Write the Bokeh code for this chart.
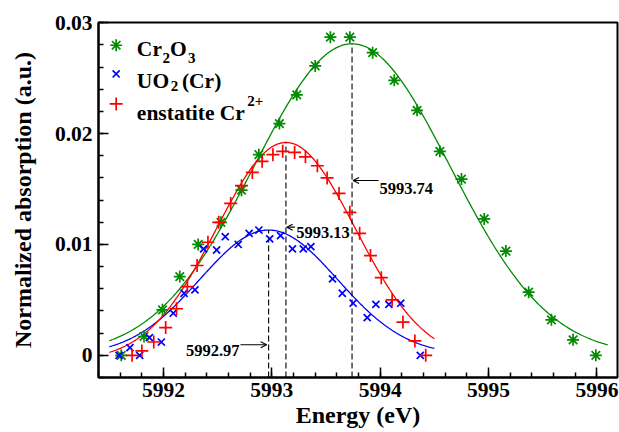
import numpy as np
from bokeh.plotting import figure
from bokeh.models import (Range1d, SingleIntervalTicker, CustomJSTickFormatter,
                          Label, Arrow, OpenHead)
from bokeh.embed import file_html
from bokeh.resources import INLINE

# ---------------- data ----------------
cr2o3_energy = [5991.61, 5991.82, 5991.99, 5992.15, 5992.32, 5992.53, 5992.72, 5992.88,
                5993.07, 5993.23, 5993.40, 5993.54, 5993.72, 5993.93, 5994.13, 5994.34,
                5994.55, 5994.75, 5994.96, 5995.16, 5995.37, 5995.58, 5995.78, 5995.99]
cr2o3_abs = [0.0000, 0.0017, 0.0041, 0.0071, 0.0100, 0.0120, 0.0149, 0.0181,
             0.0209, 0.0235, 0.0261, 0.0287, 0.0287, 0.0273, 0.0248, 0.0221,
             0.0184, 0.0159, 0.0123, 0.0094, 0.0057, 0.0032, 0.0014, 0.0000]

uo2_energy = [5991.59, 5991.69, 5991.78, 5991.87, 5991.98, 5992.09, 5992.19, 5992.29,
              5992.37, 5992.49, 5992.57, 5992.69, 5992.79, 5992.88, 5992.98, 5993.08,
              5993.19, 5993.29, 5993.36, 5993.56, 5993.65, 5993.75, 5993.88, 5993.96,
              5994.08, 5994.19, 5994.37]
uo2_abs = [0.0000, 0.0007, 0.0000, 0.0016, 0.0012, 0.0038, 0.0056, 0.0059,
           0.0096, 0.0095, 0.0107, 0.0100, 0.0110, 0.0113, 0.0105, 0.0108,
           0.0096, 0.0096, 0.0098, 0.0069, 0.0056, 0.0047, 0.0034, 0.0046,
           0.0046, 0.0047, 0.0000]

enst_energy = [5991.71, 5991.80, 5991.91, 5992.02, 5992.12, 5992.22, 5992.31, 5992.41,
               5992.51, 5992.62, 5992.72, 5992.82, 5992.91, 5993.01, 5993.10, 5993.21,
               5993.31, 5993.42, 5993.51, 5993.62, 5993.72, 5993.81, 5993.91, 5994.01,
               5994.11, 5994.21, 5994.32, 5994.42]
enst_abs = [0.0000, 0.0004, 0.0012, 0.0025, 0.0042, 0.0062, 0.0081, 0.0102,
            0.0120, 0.0137, 0.0153, 0.0165, 0.0175, 0.0181, 0.0184, 0.0183,
            0.0179, 0.0171, 0.0160, 0.0146, 0.0129, 0.0110, 0.0090, 0.0070,
            0.0050, 0.0030, 0.0013, 0.0000]

# Gaussian fit parameters (Cr2O3, UO2(Cr), enstatite)
fit_center = [5993.74, 5992.97, 5993.13]
fit_amplitude = [0.0281, 0.0113, 0.0197]
fit_sigma = [0.905, 0.635, 0.64]
fit_baseline = [0.0, 0.0, -0.0005]
fit_start = [5991.5, 5991.5, 5991.5]
fit_end = [5996.1, 5994.5, 5994.5]
peak_labels = ["5993.74", "5992.97", "5993.13"]

GREEN = "#008b00"
BLUE = "#0000ff"
RED = "#ff0000"
FONT = "Liberation Serif"

p = figure(width=619, height=432, output_backend="svg", toolbar_location=None,
           x_range=Range1d(5991.40, 5996.19), y_range=Range1d(-0.0020, 0.03002),
           min_border_left=98, min_border_right=2, min_border_top=22, min_border_bottom=55)
p.background_fill_color = "white"
p.border_fill_color = "white"
p.outline_line_color = "black"
p.outline_line_width = 2
p.xgrid.visible = False
p.ygrid.visible = False

# fitted curves
colors = [GREEN, BLUE, RED]
for c, a, s, b, x0, x1, col in zip(fit_center, fit_amplitude, fit_sigma, fit_baseline,
                                   fit_start, fit_end, colors):
    xs = np.linspace(x0, x1, 300)
    ys = a * np.exp(-(xs - c) ** 2 / (2 * s * s)) + b
    p.line(xs, ys, line_color=col, line_width=1.3)

# dashed peak markers
peak_tops = [a + b for a, b in zip(fit_amplitude, fit_baseline)]
p.segment(x0=fit_center, y0=[-0.0020] * 3, x1=fit_center, y1=peak_tops,
          line_color="black", line_width=1.1, line_dash="6 3")

# data points
p.scatter(cr2o3_energy, cr2o3_abs, marker="asterisk", size=12, line_color=GREEN, line_width=1.7)
p.scatter(uo2_energy, uo2_abs, marker="x", size=10, line_color=BLUE, line_width=1.7)
p.scatter(enst_energy, enst_abs, marker="cross", size=13, line_color=RED, line_width=1.7)

# axes
p.xaxis.ticker = SingleIntervalTicker(interval=1, num_minor_ticks=5)
p.yaxis.ticker = SingleIntervalTicker(interval=0.01, num_minor_ticks=5)
p.yaxis.formatter = CustomJSTickFormatter(
    code="return Math.abs(tick) < 1e-9 ? '0' : tick.toFixed(2);")
for ax in (p.xaxis[0], p.yaxis[0]):
    ax.axis_line_width = 2
    ax.axis_line_color = "black"
    ax.major_tick_in = 10
    ax.major_tick_out = 0
    ax.minor_tick_in = 5
    ax.minor_tick_out = 0
    ax.major_tick_line_width = 1.5
    ax.minor_tick_line_width = 1.5
    ax.major_tick_line_color = "black"
    ax.minor_tick_line_color = "black"
    ax.major_label_text_font = FONT
    ax.major_label_text_font_style = "bold"
    ax.major_label_text_font_size = "21.5px"
    ax.major_label_text_color = "black"
    ax.axis_label_text_font = FONT
    ax.axis_label_text_font_style = "bold"
    ax.axis_label_text_font_size = "24px"
    ax.axis_label_text_color = "black"
p.xaxis.major_label_standoff = 5
p.xaxis.axis_label = "Energy (eV)"
p.xaxis.axis_label_standoff = 2
p.yaxis.major_label_standoff = 6
p.yaxis.axis_label = "Normalized absorption (a.u.)"
p.yaxis.axis_label_standoff = 16


def txt(x, y, s, size="21.5px", align="left", baseline="alphabetic"):
    p.add_layout(Label(x=x, y=y, text=s, text_align=align, text_baseline=baseline,
                       text_font=FONT, text_font_style="bold", text_font_size=size,
                       text_color="black"))


# peak annotations
txt(5993.993, 0.01502, peak_labels[0], size="16.5px")
txt(5993.225, 0.01111, peak_labels[2], size="16.5px")
txt(5992.702, 0.00045, peak_labels[1], size="16.5px", align="right")
for xs, ys, xe in [(5993.985, 0.01577, 5993.75), (5993.214, 0.01156, 5993.137),
                   (5992.71, 0.00096, 5992.952)]:
    p.add_layout(Arrow(end=OpenHead(size=6, line_width=1.1, line_color="black"),
                       x_start=xs, y_start=ys, x_end=xe, y_end=ys,
                       line_width=1.1, line_color="black"))

# legend (manual, with sub/superscripts)
p.scatter([5991.563], [0.02797], marker="asterisk", size=12, line_color=GREEN, line_width=1.7)
p.scatter([5991.563], [0.02538], marker="x", size=10, line_color=BLUE, line_width=1.7)
p.scatter([5991.563], [0.02268], marker="cross", size=13, line_color=RED, line_width=1.7)
txt(5991.754, 0.02761, "Cr")
txt(5991.990, 0.02685, "2", size="15px")
txt(5992.060, 0.02761, "O")
txt(5992.225, 0.02685, "3", size="15px")
txt(5991.754, 0.02477, "UO")
txt(5992.066, 0.02432, "2", size="15px")
txt(5992.170, 0.02477, "(Cr)")
txt(5991.754, 0.02189, "enstatite Cr")
txt(5992.772, 0.02297, "2+", size="15px")

open("out.html", "w").write(file_html(p, INLINE))
